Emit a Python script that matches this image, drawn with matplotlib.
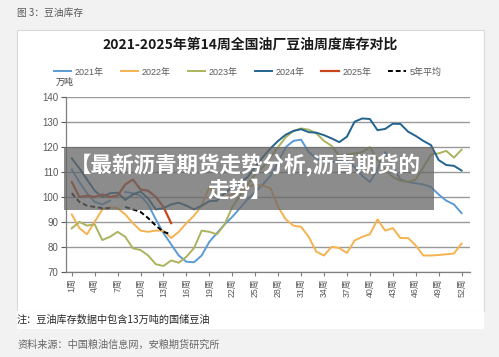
import numpy as np
import matplotlib
matplotlib.use("Agg")
import matplotlib.pyplot as plt
from matplotlib.patches import Rectangle

plt.rcParams["font.family"] = ["Liberation Sans", "Noto Sans CJK SC"]

nan = np.nan
weeks = np.arange(1, 53)
week_ticks = np.arange(1, 53, 3)
tick_labels = [f"{w}周" for w in week_ticks]

y2021 = [111, 106, 101.5, 98, 97, 98.5, nan, 102, 101.5, 100.5, 97, 91, 85.5, 81, 76.5, 74,
         73.8, 76.5, 82, 85.5, 89, 92, 95.5, 99, 102, 105, 108.5, 114, 120, 122.5, 123, 118,
         115.5, 114.5, 114, 114.5, 114.5, 112, 108.5, 106, 111, 118, 112.5, 107, 106, 105.5,
         105, 104, 101, 98.5, 97, 93.5]
y2022 = [93, 87.5, 85, 90, 95, 95.8, 95.5, 93, 89.5, 86.5, 86, 86.5, 86.5, 83.5, 86, 89.5,
         92.5, 96.5, 104, 100.5, 100, 101, 102.5, 104, 105, 104.5, 103.5, 96, 91, 88.5, 88, 84,
         78, 76.5, 80, 79.5, 77.5, 82.5, 84, 85, 91, 86.5, 87.5, 83.5, 83.5, 80.5, 76.5, 76.5,
         76.7, 77, 77.3, 81.3]
y2023 = [87.4, 90, 88.5, 89, 82.7, 84, 86, 84, 79.4, 78.7, 76.5, 73, 72.3, 74.5, 73.6, 76,
         79.5, 86.5, 86, 85, 89, 96, 100.5, 105, 109, 112, 116, 120, 124, 126.5, 127.5, 127,
         125.5, 122.5, 120.5, 116.5, 117, 117.5, 118, 120, 115, 111, 108, 106.5, 106, 107,
         112, 117, 117.5, 118.5, 115.8, 119]
y2024 = [115.5, 111.5, 107, 102.5, 100, 101.5, 101.7, 98.8, 101, 102.2, 99.4, 95, 95.5, 97,
         97.7, 96.5, 95, 96.5, 98.3, 98.5, 101.5, 104, 105.5, 108, 112, 116, 119.5, 122.5, 125,
         126.5, 127.2, 126, 125.8, 124.8, 123.5, 122, 124.2, 130.2, 131.5, 131.3, 126.8, 127.3,
         129.4, 129.3, 126.2, 124.5, 122.5, 120.8, 114.8, 112.8, 112.5, 110.6]
y2025 = [106, 100, 100.5, 100, 101, 100, 100.5, 105, 107, 103, 102.5, 100, 96, 89.5]
avg5 = [101.5, 98, 96.5, 96, 95.5, 95.5, nan, 96, 95, 94, 91.5, 88.5, 86, 85]

W, H = 499, 357
fig = plt.figure(figsize=(W / 100, H / 100), dpi=100)
fig.patch.set_facecolor("#f2f2f2")


def fx(x):
    return x / W


def fy(y):
    return 1 - y / H


# white chart panel and note strip
fig.add_artist(Rectangle((fx(17), fy(311)), fx(467), 281 / H, transform=fig.transFigure,
                         facecolor="white", edgecolor="#d9d9d9", lw=0.8, zorder=0))
fig.add_artist(Rectangle((fx(17), fy(329)), fx(467), 18 / H, transform=fig.transFigure,
                         facecolor="white", edgecolor="none", zorder=0))

ax = fig.add_axes([fx(66), fy(271.7), fx(404), 174.4 / H])
ax.set_facecolor("none")

ax.plot(weeks, y2021, color="#5b9bd5", lw=1.4, label="2021年")
ax.plot(weeks, y2022, color="#f4b350", lw=1.4, label="2022年")
ax.plot(weeks, y2023, color="#acb35c", lw=1.4, label="2023年")
ax.plot(weeks, y2024, color="#22638f", lw=1.4, label="2024年")
ax.plot(weeks[:len(y2025)], y2025, color="#c9461c", lw=1.6, label="2025年")
ax.plot(weeks[:len(avg5)], avg5, color="black", lw=1.4, ls=(0, (2.5, 1.5)), label="5年平均")

ax.set_xlim(0.25, 53.1)
ax.set_ylim(70, 140)
ax.set_yticks(range(70, 141, 10))
ax.set_xticks(week_ticks)
ax.set_xticklabels(tick_labels, rotation=90, fontsize=6.3, color="#595959")
ax.tick_params(axis="y", labelsize=7, colors="#595959", length=3.5, width=0.8, pad=2)
ax.tick_params(axis="x", length=3, width=0.8, colors="#7f7f7f", labelcolor="#595959", pad=2)
ax.grid(axis="y", color="#999999", lw=1.0)
ax.set_axisbelow(True)
for s in ["top", "right"]:
    ax.spines[s].set_visible(False)
for s in ["left", "bottom"]:
    ax.spines[s].set_color("#7f7f7f")
    ax.spines[s].set_linewidth(0.9)

leg = fig.legend(loc="center", bbox_to_anchor=(0.496, fy(72)), ncol=6, frameon=False,
                 fontsize=6.5, handlelength=1.9, handletextpad=0.4, columnspacing=1.9)
for t in leg.get_texts():
    t.set_color("#595959")

fig.text(fx(250), fy(45), "2021-2025年第14周全国油厂豆油周度库存对比", ha="center", va="center",
         fontsize=10, fontweight="bold", family=["Noto Sans CJK SC"], color="#1a1a1a")
fig.text(fx(56), fy(82), "万吨", ha="left", va="center", fontsize=6.5,
         family=["Noto Sans CJK SC"], color="#404040")

fig.text(fx(17), fy(13), "图 3：豆油库存", ha="left", va="center", fontsize=7,
         family=["Noto Sans CJK SC"], color="#595959")
fig.text(fx(17), fy(320), "注：豆油库存数据中包含13万吨的国储豆油", ha="left", va="center",
         fontsize=7.3, family=["Noto Sans CJK SC"], color="#262626")
fig.text(fx(17), fy(345), "资料来源：中国粮油信息网，安粮期货研究所", ha="left", va="center",
         fontsize=7.3, family=["Noto Sans CJK SC"], color="#666666")

# grey headline banner laid over the chart
fig.add_artist(Rectangle((fx(64), fy(210)), fx(370), 63 / H, transform=fig.transFigure,
                         facecolor="#666666", alpha=0.75, edgecolor="none", zorder=5))
fig.text(fx(245), fy(165), "【最新沥青期货走势分析,沥青期货的", ha="center", va="center",
         fontsize=15.5, fontweight="bold", family=["Noto Sans CJK SC"], color="white", zorder=6)
fig.text(fx(240), fy(190), "走势】", ha="center", va="center",
         fontsize=15.5, fontweight="bold", family=["Noto Sans CJK SC"], color="white", zorder=6)

fig.savefig("out.png", dpi=100, facecolor=fig.get_facecolor())
